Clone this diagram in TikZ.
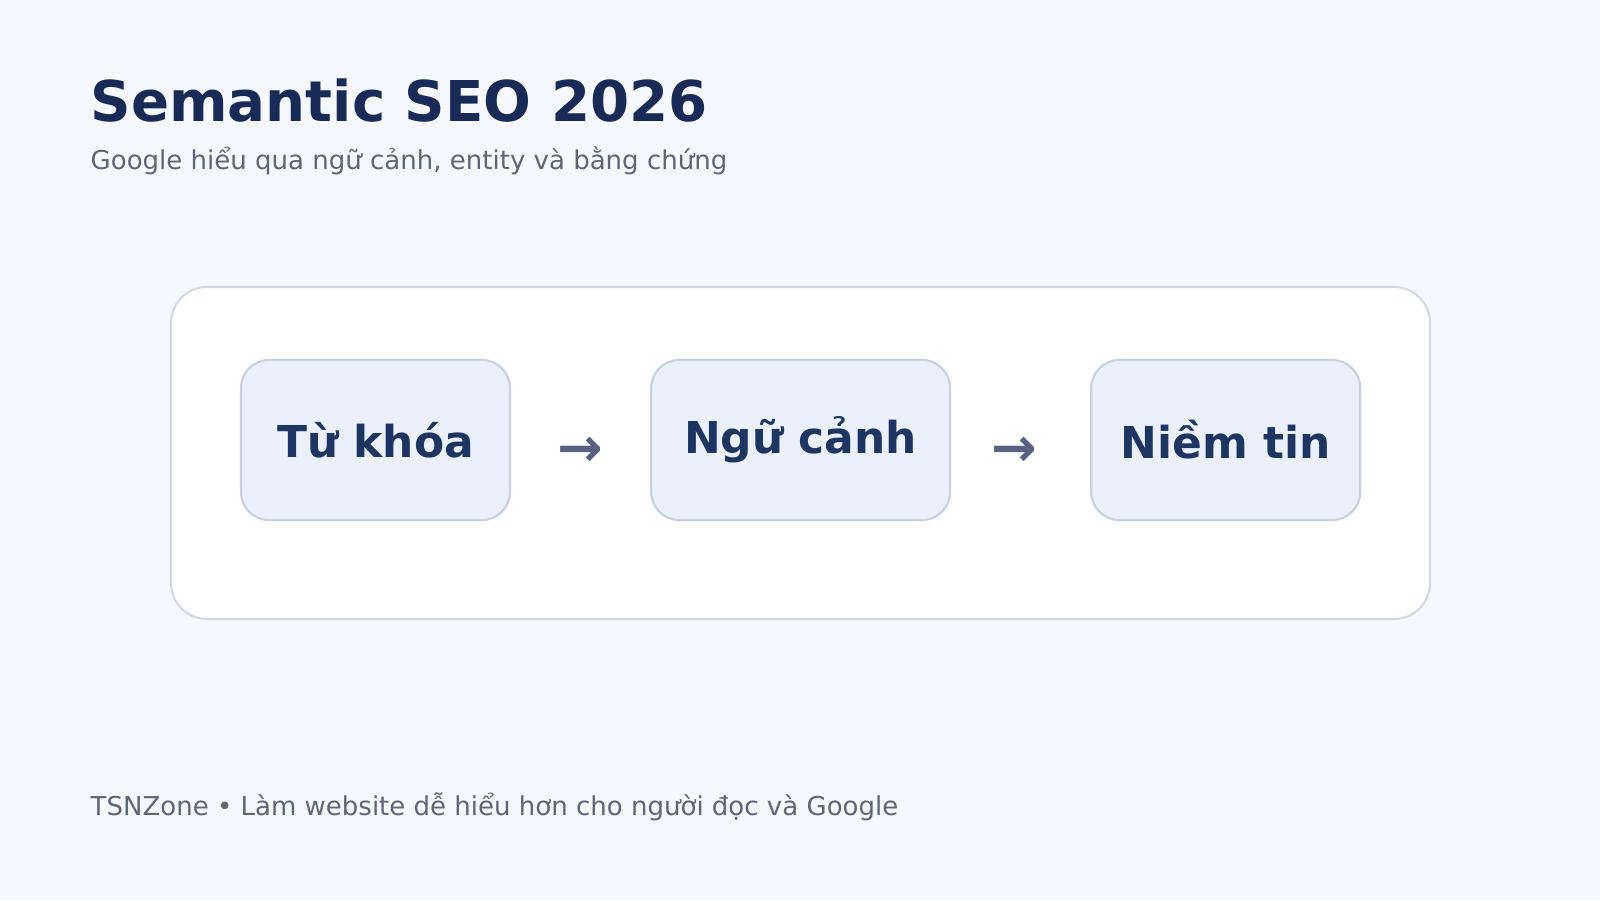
\documentclass[tikz,border=0pt]{standalone}
\usepackage{fontspec}
\setmainfont{DejaVu Sans}
\usetikzlibrary{positioning,calc}
\definecolor{pagebg}{HTML}{F5F9FE}
\definecolor{panelline}{HTML}{D3D8E3}
\definecolor{stagefill}{HTML}{EAF1FC}
\definecolor{stageline}{HTML}{C8D0E0}
\definecolor{titlenavy}{HTML}{1A2A57}
\definecolor{stagetext}{HTML}{1E3461}
\definecolor{softgray}{HTML}{5E6574}
\definecolor{arrowgray}{HTML}{596082}

\begin{document}
\begin{tikzpicture}[
  stage/.style={draw=stageline, fill=stagefill, line width=0.6pt, rounded corners=0.28cm,
    minimum width=2.69cm, minimum height=1.60cm, inner sep=0pt,
    font=\fontsize{12.5}{15}\selectfont\bfseries, text=stagetext},
  flowarrow/.style={inner sep=0pt, font=\fontsize{15.5}{18}\selectfont\bfseries, text=arrowgray},
  plain/.style={anchor=base west, inner sep=0pt}
]

\fill[pagebg] (0,0) rectangle (16,9);
\filldraw[fill=white, draw=panelline, line width=0.6pt, rounded corners=0.36cm] (1.71,2.81) rectangle (14.30,6.13);

\node[plain, text=titlenavy, font=\fontsize{16}{19}\selectfont\bfseries] (title) at (0.90,7.78) {Semantic SEO 2026};
\node[plain, text=softgray, font=\fontsize{7.4}{9}\selectfont] (subtitle) at (0.90,7.30) {Google hiểu qua ngữ cảnh, entity và bằng chứng};

\node[stage] (tukhoa) at (3.755,4.60) {Từ khóa};
\node[stage, minimum width=2.99cm, right=1.39cm of tukhoa] (ngucanh) {Ngữ cảnh};
\node[stage, right=1.39cm of ngucanh] (niemtin) {Niềm tin};

\node[flowarrow, yshift=-0.12cm] (arrowa) at ($(tukhoa.east)!0.5!(ngucanh.west)$) {→};
\node[flowarrow, yshift=-0.12cm, xshift=-0.06cm] (arrowb) at ($(ngucanh.east)!0.5!(niemtin.west)$) {→};

\node[plain, text=softgray, font=\fontsize{7.4}{9}\selectfont] (footer) at (0.90,0.85) {TSNZone • Làm website dễ hiểu hơn cho người đọc và Google};

\end{tikzpicture}
\end{document}
